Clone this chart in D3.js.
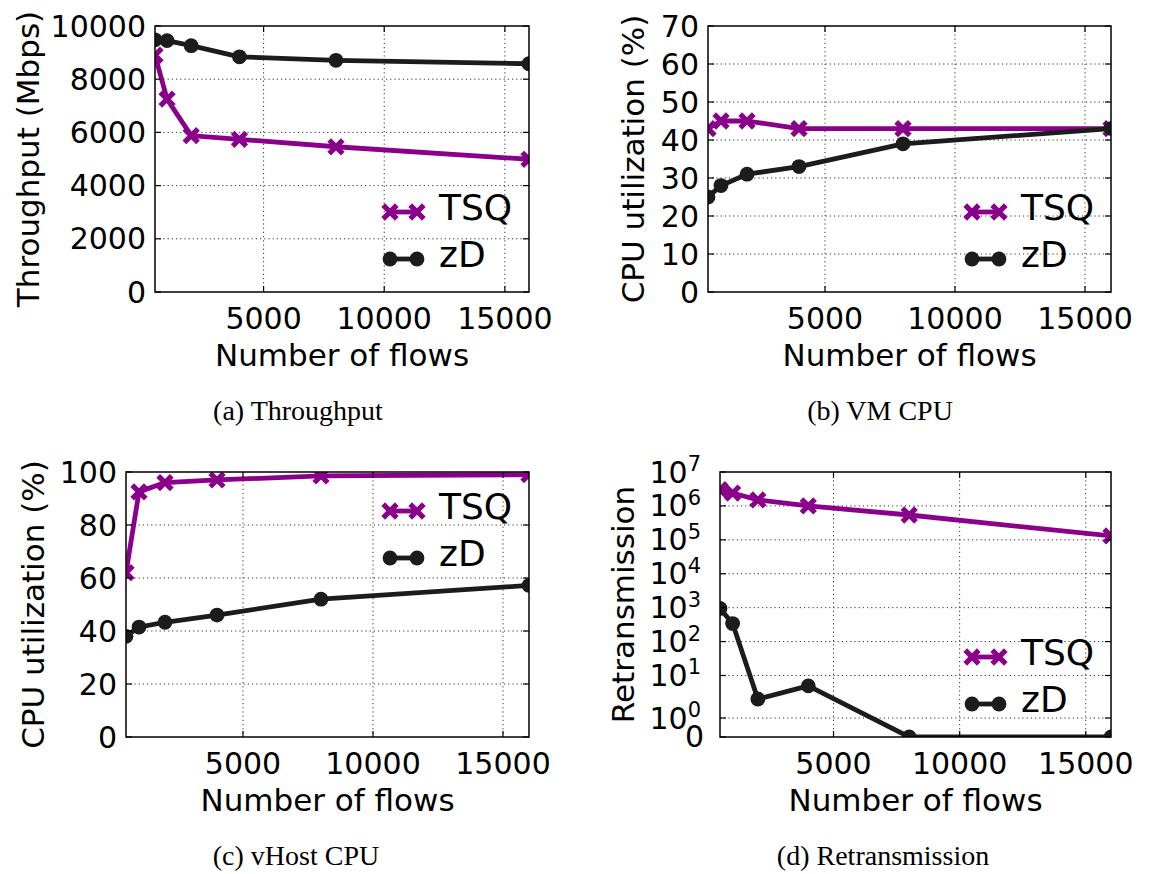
<!DOCTYPE html>
<html><head><meta charset="utf-8">
<script src="https://cdn.jsdelivr.net/npm/d3@7"></script>
<style>body{margin:0;background:#fff} svg{display:block}</style>
</head><body>
<svg id="chart" width="1152" height="874"></svg>
<script>
// ---------------- data ----------------
const flows = [500, 1000, 2000, 4000, 8000, 16000];
const xTicks = [5000, 10000, 15000];
const seriesNames = ["TSQ", "zD"];

const throughputTSQ = [8900, 7250, 5880, 5740, 5460, 4990];
const throughputZD  = [9480, 9450, 9260, 8840, 8710, 8580];
const throughputTicks = [0, 2000, 4000, 6000, 8000, 10000];

const vmCpuTSQ = [43, 45, 45, 43, 43, 43];
const vmCpuZD  = [25, 28, 31, 33, 39, 43];
const vmCpuTicks = [0, 10, 20, 30, 40, 50, 60, 70];

const vhostCpuTSQ = [62, 92.5, 96, 97, 98.5, 99];
const vhostCpuZD  = [38, 41.5, 43.3, 46, 52, 57.2];
const vhostCpuTicks = [0, 20, 40, 60, 80, 100];

const retransTSQ = [3.0e6, 2.4e6, 1.5e6, 1.0e6, 5.4e5, 1.3e5];
const retransZD  = [950, 340, 2.8, 5.7, 0, 0];
const retransTicks = [0, 1, 10, 100, 1e3, 1e4, 1e5, 1e6, 1e7];

const xLabel = "Number of flows";

// ---------------- drawing ----------------
const svg = d3.select("#chart");
const SANS = "'DejaVu Sans', sans-serif";
const SERIF = "'Liberation Serif', 'Times New Roman', serif";
const PURPLE = "#8b008b";
const BLACK = "#1c1c1c";

// transform for the retransmission axis (0 gets its own slot below 10^0)
const logT = v => v <= 0 ? -1 : Math.log10(v);

const panels = [
  { key: "a", tsq: throughputTSQ, zd: throughputZD, ticks: throughputTicks,
    yLabel: "Throughput (Mbps)", caption: "(a) Throughput",
    box: {l: 155, r: 529, t: 26, b: 292}, yLabelX: 28, captionX: 298, legendTop: false,
    y: (bx) => d3.scaleLinear().domain([0, 10000]).range([bx.b, bx.t]), tf: v => v },
  { key: "b", tsq: vmCpuTSQ, zd: vmCpuZD, ticks: vmCpuTicks,
    yLabel: "CPU utilization (%)", caption: "(b) VM CPU",
    box: {l: 708, r: 1111, t: 26, b: 292}, yLabelX: 633, captionX: 880, legendTop: false,
    y: (bx) => d3.scaleLinear().domain([0, 70]).range([bx.b, bx.t]), tf: v => v },
  { key: "c", tsq: vhostCpuTSQ, zd: vhostCpuZD, ticks: vhostCpuTicks,
    yLabel: "CPU utilization (%)", caption: "(c) vHost CPU",
    box: {l: 126, r: 529, t: 472, b: 737}, yLabelX: 33, captionX: 296, legendTop: true,
    y: (bx) => d3.scaleLinear().domain([0, 100]).range([bx.b, bx.t]), tf: v => v },
  { key: "d", tsq: retransTSQ, zd: retransZD, ticks: retransTicks,
    yLabel: "Retransmission", caption: "(d) Retransmission",
    box: {l: 720, r: 1111, t: 472, b: 737}, yLabelX: 623, captionX: 883, legendTop: false, log: true,
    y: (bx) => d3.scaleLinear().domain([-1, 0, 1, 7])
                 .range([bx.b, bx.b - 19, bx.b - 61.5, bx.t]), tf: logT }
];

const xMark = s => `M${-s},${-s}L${s},${s}M${-s},${s}L${s},${-s}`;

function drawMarkers(g, pts, type, color) {
  if (type === "TSQ") {
    g.selectAll(null).data(pts).enter().append("path")
      .attr("d", xMark(6.8))
      .attr("transform", d => `translate(${d[0]},${d[1]})`)
      .attr("stroke", color).attr("stroke-width", 5.2).attr("fill", "none");
  } else {
    g.selectAll(null).data(pts).enter().append("circle")
      .attr("cx", d => d[0]).attr("cy", d => d[1]).attr("r", 7.4)
      .attr("fill", color);
  }
}

panels.forEach(p => {
  const bx = p.box;
  const x = d3.scaleLinear().domain([500, 16000]).range([bx.l, bx.r]);
  const y = p.y(bx);
  const Y = v => y(p.tf(v));
  const g = svg.append("g");

  const clipId = "clip-" + p.key;
  svg.append("clipPath").attr("id", clipId).append("rect")
    .attr("x", bx.l).attr("y", bx.t).attr("width", bx.r - bx.l).attr("height", bx.b - bx.t);

  // grid
  const grid = g.append("g").attr("stroke", "#333").attr("stroke-width", 1)
    .attr("stroke-dasharray", "1.2,3");
  xTicks.forEach(t => grid.append("line")
    .attr("x1", x(t)).attr("x2", x(t)).attr("y1", bx.t).attr("y2", bx.b));
  p.ticks.forEach(t => {
    const yy = Y(t);
    if (Math.abs(yy - bx.b) < 1 || Math.abs(yy - bx.t) < 1) return;
    grid.append("line").attr("x1", bx.l).attr("x2", bx.r).attr("y1", yy).attr("y2", yy);
  });

  // data
  const dg = g.append("g").attr("clip-path", `url(#${clipId})`);
  const line = d3.line().x(d => d[0]).y(d => d[1]);
  const ptsT = flows.map((f, i) => [x(f), Y(p.tsq[i])]);
  const ptsZ = flows.map((f, i) => [x(f), Y(p.zd[i])]);
  dg.append("path").attr("d", line(ptsT)).attr("fill", "none")
    .attr("stroke", PURPLE).attr("stroke-width", 4.8).attr("stroke-linejoin", "round");
  drawMarkers(dg, ptsT, "TSQ", PURPLE);
  dg.append("path").attr("d", line(ptsZ)).attr("fill", "none")
    .attr("stroke", BLACK).attr("stroke-width", 4.8).attr("stroke-linejoin", "round");
  drawMarkers(dg, ptsZ, "zD", BLACK);

  // border
  g.append("rect").attr("x", bx.l).attr("y", bx.t)
    .attr("width", bx.r - bx.l).attr("height", bx.b - bx.t)
    .attr("fill", "none").attr("stroke", "#000").attr("stroke-width", 1.5);

  // ticks (inward, mirrored)
  const tk = g.append("g").attr("stroke", "#000").attr("stroke-width", 1.2);
  xTicks.forEach(t => {
    tk.append("line").attr("x1", x(t)).attr("x2", x(t)).attr("y1", bx.b).attr("y2", bx.b - 6);
    tk.append("line").attr("x1", x(t)).attr("x2", x(t)).attr("y1", bx.t).attr("y2", bx.t + 6);
  });
  p.ticks.forEach(t => {
    const yy = Y(t);
    tk.append("line").attr("x1", bx.l).attr("x2", bx.l + 6).attr("y1", yy).attr("y2", yy);
    tk.append("line").attr("x1", bx.r).attr("x2", bx.r - 6).attr("y1", yy).attr("y2", yy);
  });

  // x tick labels
  g.selectAll(null).data(xTicks).enter().append("text")
    .attr("x", d => x(d)).attr("y", bx.b + 26).attr("dy", "0.35em")
    .attr("text-anchor", "middle").attr("font-family", SANS).attr("font-size", 30)
    .attr("fill", "#000").text(d => d);

  // y tick labels
  p.ticks.forEach(t => {
    const yy = Y(t);
    if (p.log) {
      if (t === 0) {
        g.append("text").attr("x", bx.l - 16).attr("y", yy - 1).attr("dy", "0.35em")
          .attr("text-anchor", "end").attr("font-family", SANS).attr("font-size", 30)
          .attr("fill", "#000").text("0");
      } else {
        const txt = g.append("text").attr("x", bx.l - 19).attr("y", yy).attr("dy", "0.35em")
          .attr("text-anchor", "end").attr("font-family", SANS).attr("font-size", 30)
          .attr("fill", "#000");
        txt.append("tspan").text("10");
        txt.append("tspan").attr("dy", "-0.55em").attr("font-size", 21)
          .text(String(Math.round(Math.log10(t))));
      }
    } else {
      g.append("text").attr("x", bx.l - 9).attr("y", yy).attr("dy", "0.35em")
        .attr("text-anchor", "end").attr("font-family", SANS).attr("font-size", 30)
        .attr("fill", "#000").text(t);
    }
  });

  // axis labels
  g.append("text").attr("x", (bx.l + bx.r) / 2).attr("y", bx.b + 63).attr("dy", "0.35em")
    .attr("text-anchor", "middle").attr("font-family", SANS).attr("font-size", 31)
    .attr("fill", "#000").text(xLabel);
  g.append("text")
    .attr("transform", `translate(${p.yLabelX},${(bx.t + bx.b) / 2}) rotate(-90)`)
    .attr("dy", "0.35em").attr("text-anchor", "middle")
    .attr("font-family", SANS).attr("font-size", 31).attr("fill", "#000").text(p.yLabel);

  // caption
  g.append("text").attr("x", p.captionX).attr("y", bx.b + 118).attr("dy", "0.35em")
    .attr("text-anchor", "middle").attr("font-family", SERIF).attr("font-size", 28)
    .attr("fill", "#000").text(p.caption);

  // legend
  const ly = p.legendTop ? [bx.t + 39, bx.t + 86] : [bx.b - 80, bx.b - 33];
  const lx1 = bx.r - 139, lx2 = bx.r - 112, ltx = bx.r - 90;
  seriesNames.forEach((name, i) => {
    const col = i === 0 ? PURPLE : BLACK;
    const lg = g.append("g");
    lg.append("line").attr("x1", lx1).attr("x2", lx2).attr("y1", ly[i]).attr("y2", ly[i])
      .attr("stroke", col).attr("stroke-width", 4.8);
    drawMarkers(lg, [[lx1, ly[i]], [lx2, ly[i]]], name, col);
    lg.append("text").attr("x", ltx).attr("y", ly[i] - 5).attr("dy", "0.35em")
      .attr("font-family", SANS).attr("font-size", 36).attr("fill", "#000").text(name);
  });
});
</script>
</body></html>
